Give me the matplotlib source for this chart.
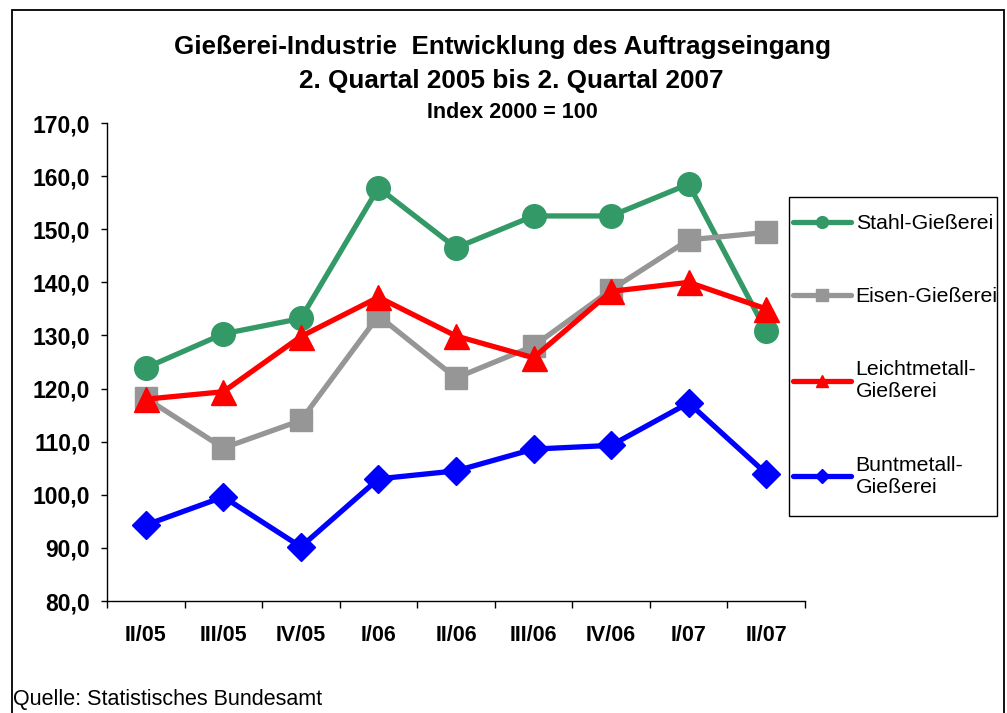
import matplotlib
matplotlib.use('Agg')
import matplotlib.pyplot as plt
from matplotlib.patches import Rectangle

plt.rcParams['font.family'] = ['Liberation Sans', 'DejaVu Sans']

# Quartale
quartale = ['II/05', 'III/05', 'IV/05', 'I/06', 'II/06', 'III/06', 'IV/06', 'I/07', 'II/07']

# Index 2000 = 100
stahl = [123.9, 130.3, 133.2, 157.8, 146.5, 152.5, 152.5, 158.5, 130.8]
eisen = [118.2, 108.8, 114.0, 133.7, 122.0, 128.0, 138.6, 148.0, 149.4]
leicht = [118.0, 119.4, 129.8, 137.2, 129.9, 125.8, 138.3, 140.0, 135.0]
bunt = [94.3, 99.6, 90.2, 103.0, 104.5, 108.6, 109.3, 117.3, 104.0]

namen = ['Stahl-Gießerei', 'Eisen-Gießerei', 'Leichtmetall-\nGießerei', 'Buntmetall-\nGießerei']
farben = ['#339966', '#969696', '#ff0000', '#0000ff']
marker = ['o', 's', '^', 'D']
msize = [17, 16, 18, 14]

fig = plt.figure(figsize=(10.07, 7.13), dpi=100)
ax = fig.add_axes([107 / 1007, 1 - 601 / 713, 698 / 1007, 478 / 713])

x = list(range(len(quartale)))
for werte, name, f, m, ms in zip([stahl, eisen, leicht, bunt], namen, farben, marker, msize):
    ax.plot(x, werte, color=f, lw=3.8, marker=m, ms=ms, mec=f, mfc=f, label=name,
            solid_joinstyle='round', solid_capstyle='round')

ax.set_xlim(-0.5, len(quartale) - 0.5)
ax.set_ylim(80, 170)
ax.set_yticks(range(80, 171, 10))
ax.set_yticklabels([f'{v},0' for v in range(80, 171, 10)], fontsize=16.5, fontweight='bold')
ax.set_xticks(x)
ax.set_xticklabels(quartale, fontsize=15.5, fontweight='bold')
ax.set_xticks([i + 0.5 for i in range(-1, len(quartale))], minor=True)
ax.tick_params(axis='x', which='major', length=0, pad=17)
ax.tick_params(axis='x', which='minor', length=5, width=1, direction='out')
ax.tick_params(axis='y', length=4, width=1, direction='out', pad=8)

for s in ['top', 'right']:
    ax.spines[s].set_visible(False)
for s in ['left', 'bottom']:
    ax.spines[s].set_linewidth(1)

# Titel
fig.text(0.499, 1 - 47 / 713, 'Gießerei-Industrie  Entwicklung des Auftragseingang',
         ha='center', va='center', fontsize=18.7, fontweight='bold')
fig.text(0.508, 1 - 81 / 713, '2. Quartal 2005 bis 2. Quartal 2007',
         ha='center', va='center', fontsize=18.8, fontweight='bold')
fig.text(0.509, 1 - 113 / 713, 'Index 2000 = 100',
         ha='center', va='center', fontsize=15.5, fontweight='bold')

fig.text(13 / 1007, 1 - 700 / 713, 'Quelle: Statistisches Bundesamt',
         ha='left', va='center', fontsize=15.5)

# Legende
leg = ax.legend(loc='upper left', bbox_to_anchor=(793 / 1007, 1 - 214 / 713),
                bbox_transform=fig.transFigure, frameon=False, fontsize=15.3,
                borderpad=0, borderaxespad=0, handlelength=2.75, handletextpad=0.2,
                labelspacing=2.55, markerscale=0.5)
fig.add_artist(Rectangle((789 / 1007, 1 - 516 / 713), 208 / 1007, 319 / 713,
                         transform=fig.transFigure, fill=False, ec='black', lw=1))

# Rahmen
fig.add_artist(Rectangle((12 / 1007, -0.05), 992 / 1007, 1.05 - 10 / 713,
                         transform=fig.transFigure, fill=False, ec='black', lw=1.3))

fig.savefig('out.png', dpi=100)
